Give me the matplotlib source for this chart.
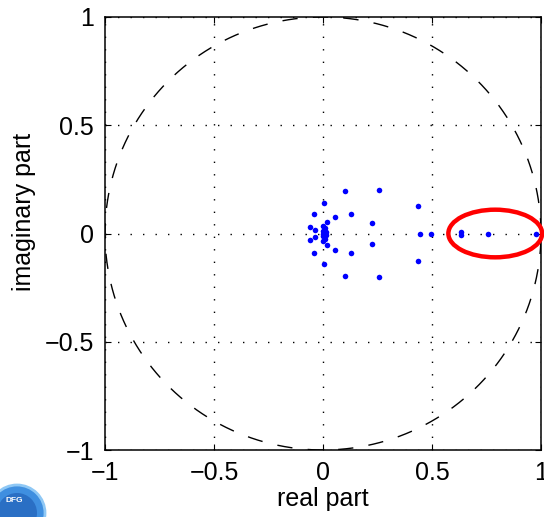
import numpy as np
import matplotlib.pyplot as plt
import matplotlib as mpl
from matplotlib.patches import Ellipse, Circle

plt.rcParams['font.family'] = ['Liberation Sans', 'DejaVu Sans']

# complex poles in the upper half plane (mirrored below)
pole_re = [0.100, 0.255, 0.005, -0.041, 0.055, 0.127, 0.017, 0.223, 0.437,
           -0.058, -0.037, 0.000, 0.009, 0.001, 0.013, 0.632]
pole_im = [0.196, 0.202, 0.142, 0.089, 0.078, 0.089, 0.053, 0.048, 0.125,
           0.028, 0.015, 0.035, 0.026, 0.012, 0.008, 0.005]
# real poles
real_poles = [0.000, 0.010, 0.445, 0.495, 0.757, 0.978]

ticks = [-1, -0.5, 0, 0.5, 1]
tick_labels = ['\u22121', '\u22120.5', '0', '0.5', '1']

# highlighted region (red ellipse)
ell_center = (0.79, 0.0)
ell_w, ell_h = 0.43, 0.22

fig = plt.figure(figsize=(5.44, 5.17), dpi=100)
ax = fig.add_axes([105/544, 1 - 450/517, 436/544, 433/517])

# unit circle
t = np.linspace(0, 2*np.pi, 400)
ax.plot(np.cos(t), np.sin(t), color='black', linewidth=1, dashes=(11, 11))

# poles
xs = list(pole_re) + list(pole_re) + real_poles
ys = list(pole_im) + [-v for v in pole_im] + [0.0]*len(real_poles)
ax.plot(xs, ys, 'o', color=(0, 0, 1), markersize=4, markeredgewidth=0, zorder=3)

ax.add_patch(Ellipse(ell_center, ell_w, ell_h, fill=False, edgecolor=(1, 0, 0),
                     linewidth=3.2, clip_on=False, zorder=4))

ax.set_xlim(-1, 1)
ax.set_ylim(-1, 1)
ax.set_xticks(ticks)
ax.set_xticklabels(tick_labels)
ax.set_yticks(ticks)
ax.set_yticklabels(tick_labels)
ax.tick_params(direction='in', length=4, width=0.8, labelsize=18, pad=8,
               top=True, right=True)
ax.grid(True, color='black', linewidth=1, linestyle=(0, (1, 8)))
for s in ax.spines.values():
    s.set_linewidth(1.1)

ax.set_xlabel('real part', fontsize=18)
ax.set_ylabel('imaginary part', fontsize=18)
ax.xaxis.set_label_coords(0.5, -0.085)
ax.yaxis.set_label_coords(-0.158, 0.55)

# logo corner (approximate)
cx = 17/544
fig.patches.append(Circle((17, 4), 28, transform=None, facecolor='#3f8fe0',
                          edgecolor='#8fc8f5', linewidth=2))
fig.patches.append(Circle((17, 4), 20, transform=None, facecolor='#2a6fc4',
                          edgecolor='none'))
fig.text(cx - 0.005, 1 - 500/517, 'DFG', color='white', fontsize=6,
         fontweight='bold', ha='center', va='center')

fig.savefig('out.png', dpi=100)
